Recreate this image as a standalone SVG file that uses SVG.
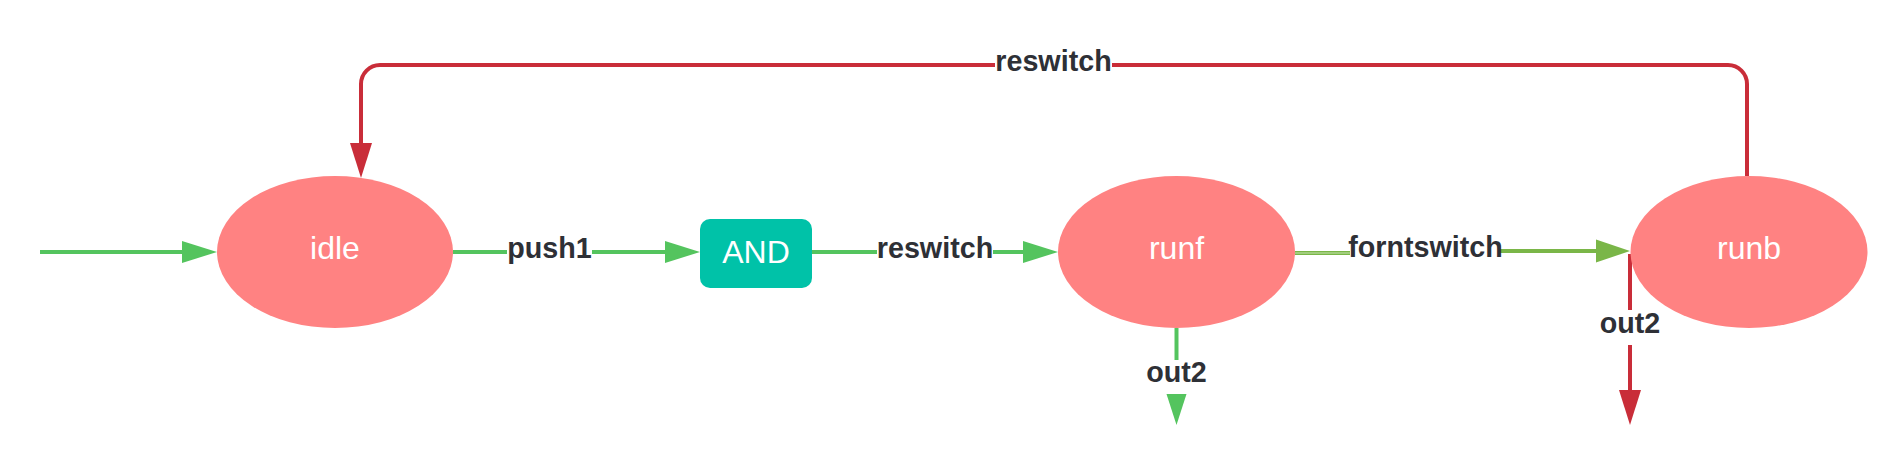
<svg xmlns="http://www.w3.org/2000/svg" width="1904" height="460" viewBox="0 0 1904 460">
<style>
.node-ell{fill:#ff8282;}
.node-box{fill:#00c2a8;}
.ntext{font-family:"Liberation Sans",Arial,sans-serif;font-size:32px;fill:#ffffff;text-anchor:middle;}
.lbl{font-family:"Liberation Sans",Arial,sans-serif;font-size:28.7px;font-weight:bold;fill:#2e3036;text-anchor:middle;}
.lblbg{fill:#ffffff;}
.g{fill:none;stroke:#54c45e;stroke-width:4;}
.o{fill:none;stroke:#7ab648;stroke-width:4;}
.r{fill:none;stroke:#c92d39;stroke-width:4;}
</style>
<defs>
<marker id="ag" markerUnits="userSpaceOnUse" markerWidth="36" markerHeight="24" refX="0" refY="11" orient="auto" overflow="visible">
<path d="M0,0 L35,11 L0,22 Z" fill="#54c45e"/>
</marker>
<marker id="ao" markerUnits="userSpaceOnUse" markerWidth="36" markerHeight="24" refX="0" refY="11.5" orient="auto" overflow="visible">
<path d="M0,0 L34,11.5 L0,23 Z" fill="#7ab648"/>
</marker>
<marker id="ar" markerUnits="userSpaceOnUse" markerWidth="36" markerHeight="24" refX="0" refY="11" orient="auto" overflow="visible">
<path d="M0,0 L35,11 L0,22 Z" fill="#c92d39"/>
</marker>
<marker id="ag2" markerUnits="userSpaceOnUse" markerWidth="32" markerHeight="22" refX="0" refY="10" orient="auto" overflow="visible">
<path d="M0,0 L31,10 L0,20 Z" fill="#54c45e"/>
</marker>
</defs>

<g id="connectors">
  <!-- start -> idle -->
  <path id="e-start" class="g" d="M40,252 H182" marker-end="url(#ag)"/>
  <!-- idle -> AND -->
  <g id="e-push1">
    <path class="g" d="M453,252 H665" marker-end="url(#ag)"/>
    <rect class="lblbg" x="507" y="234" width="85" height="32"/>
    <text class="lbl" x="549.5" y="258">push1</text>
  </g>
  <!-- AND -> runf -->
  <g id="e-reswitch1">
    <path class="g" d="M812,252 H1023" marker-end="url(#ag)"/>
    <rect class="lblbg" x="877" y="234" width="116" height="32"/>
    <text class="lbl" x="935" y="258">reswitch</text>
  </g>
  <!-- runf -> runb -->
  <g id="e-forntswitch">
    <path class="o" d="M1295,253 H1350"/>
    <path d="M1295,253 H1350" fill="none" stroke="#c8e3b3" stroke-width="1"/>
    <path class="o" d="M1500,251 H1596" marker-end="url(#ao)"/>
    <text class="lbl" x="1425.5" y="257">forntswitch</text>
  </g>
  <!-- runf out2 -->
  <g id="e-runf-out2">
    <path class="g" d="M1176.5,328 V394" marker-end="url(#ag2)"/>
    <rect class="lblbg" x="1144" y="360" width="65" height="34"/>
    <text class="lbl" x="1176.5" y="382">out2</text>
  </g>
  <!-- runb out2 -->
  <g id="e-runb-out2">
    <path class="r" d="M1630,254 V390" marker-end="url(#ar)"/>
    <rect class="lblbg" x="1598" y="310" width="65" height="35"/>
    <text class="lbl" x="1630" y="333">out2</text>
  </g>
  <!-- runb -> idle (reswitch loop) -->
  <g id="e-reswitch2">
    <path class="r" d="M1747,176 V84 A19,19 0 0 0 1728,65 H380 A19,19 0 0 0 361,84 V143" marker-end="url(#ar)"/>
    <rect class="lblbg" x="995" y="47" width="117" height="32"/>
    <text class="lbl" x="1053.5" y="71">reswitch</text>
  </g>
</g>

<g id="node-idle">
  <ellipse class="node-ell" cx="335" cy="252" rx="118" ry="76"/>
  <text class="ntext" x="335" y="259">idle</text>
</g>
<g id="node-and">
  <rect class="node-box" x="700" y="219" width="112" height="69" rx="10" ry="10"/>
  <text class="ntext" x="756" y="263">AND</text>
</g>
<g id="node-runf">
  <ellipse class="node-ell" cx="1176.5" cy="252" rx="118.5" ry="76"/>
  <text class="ntext" x="1176.5" y="259">runf</text>
</g>
<g id="node-runb">
  <ellipse class="node-ell" cx="1749" cy="252" rx="118.5" ry="76"/>
  <text class="ntext" x="1749" y="259">runb</text>
</g>
</svg>
